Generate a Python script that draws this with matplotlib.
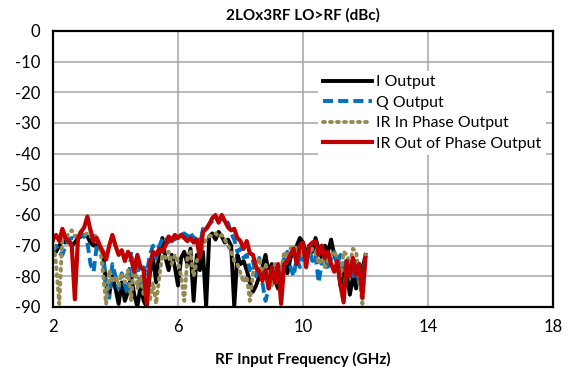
import matplotlib
matplotlib.use("Agg")
import matplotlib.pyplot as plt

# sweep frequency (GHz)
freq_ghz = [2.0, 2.1, 2.2, 2.3, 2.4, 2.5, 2.6, 2.7, 2.8, 2.9,
            3.0, 3.1, 3.2, 3.3, 3.4, 3.5, 3.6, 3.7, 3.8, 3.9,
            4.0, 4.1, 4.2, 4.3, 4.4, 4.5, 4.6, 4.7, 4.8, 4.9,
            5.0, 5.1, 5.2, 5.3, 5.4, 5.5, 5.6, 5.7, 5.8, 5.9,
            6.0, 6.1, 6.2, 6.3, 6.4, 6.5, 6.6, 6.7, 6.8, 6.9,
            7.0, 7.1, 7.2, 7.3, 7.4, 7.5, 7.6, 7.7, 7.8, 7.9,
            8.0, 8.1, 8.2, 8.3, 8.4, 8.5, 8.6, 8.7, 8.8, 8.9,
            9.0, 9.1, 9.2, 9.3, 9.4, 9.5, 9.6, 9.7, 9.8, 9.9,
            10.0, 10.1, 10.2, 10.3, 10.4, 10.5, 10.6, 10.7, 10.8, 10.9,
            11.0, 11.1, 11.2, 11.3, 11.4, 11.5, 11.6, 11.7, 11.8, 11.9,
            12.0]

# LO>RF leakage (dBc)
i_out = [-71, -72, -70, -68.5, -69, -68, -70, -69, -67.5, -67,
         -66.5, -67, -69, -70, -69.5, -71, -72, -83, -86, -80,
         -84, -89, -82, -88, -85, -80, -86, -90, -83, -88,
         -90, -79, -74, -82, -72, -67.5, -74, -78, -73, -77,
         -83, -74, -72, -76, -71, -88, -73, -78, -72, -90,
         -67, -66, -68, -65.5, -67, -69, -68, -70, -90, -73,
         -76, -75, -78, -82, -85, -83, -80, -77, -73, -79,
         -76, -81, -84, -80, -76, -79, -74, -72, -70, -67.5,
         -69, -73, -70, -72, -67.5, -71, -74, -70, -72, -68,
         -73, -76, -83, -77, -79, -86, -80, -84, -76, -78,
         -73]

q_out = [-72, -70, -72.5, -73, -70, -68, -67.5, -68, -67, -66.5,
         -67, -69, -76, -78.5, -70, -70, -73, -85, -87, -76,
         -80, -84, -79, -83, -86, -72, -80, -76, -84, -77,
         -79, -73, -70, -74, -70, -68, -67, -69, -66.5, -68,
         -66, -66.5, -66, -67, -65.5, -68, -66.5, -70, -64.5, -65,
         -63, -62, -61, -62, -61, -63, -62.5, -66, -68, -72,
         -71, -74, -73, -78, -75, -80, -74, -82, -88, -84,
         -80, -77, -83, -78, -74, -72, -77, -80, -74, -77,
         -72, -74, -71, -75, -73, -82, -76, -73, -78, -74,
         -72, -76, -73, -79, -74, -77, -80, -75, -83, -78,
         -75]

ir_in_phase = [-68, -76, -89, -67, -68, -66, -65, -67, -66, -65.5,
               -66.5, -66, -67, -66, -67.5, -70, -79, -89, -78, -82,
               -80, -83, -79, -82, -78, -88, -74, -84, -80, -86,
               -81, -88, -82, -89, -80, -73, -74, -72, -76, -73,
               -75, -80, -88, -74, -72, -80, -75, -73, -70, -68,
               -67, -66.5, -66, -67, -66.5, -68, -70, -72, -75, -76,
               -79, -82, -80, -88, -79, -77, -74, -81, -76, -79,
               -83, -76, -80, -78, -72, -74, -71, -70, -71, -70,
               -74, -72, -73, -71, -72, -76, -74, -77, -75, -73,
               -72, -74, -80, -72, -73, -76, -71, -72, -80, -89,
               -72]

ir_out_phase = [-68, -66.5, -68.5, -64.5, -67.5, -68.5, -70, -87.5, -67.5, -65.5,
                -64, -60.5, -65, -68.5, -67.5, -70, -72, -74.5, -70, -66.5,
                -70, -73, -71.5, -75, -72, -74, -78.5, -73, -77, -78,
                -89, -76, -72, -73, -71, -72, -70, -67, -68.5, -66.5,
                -67.5, -66.5, -67.5, -68.5, -67.5, -69, -68, -74, -65.5, -64.5,
                -63, -61, -60, -62.5, -60, -62, -64, -65, -64.5, -67.5,
                -68.5, -71, -68.5, -72.5, -73, -77, -78.5, -81.5, -78, -84,
                -77, -82, -76, -89, -76, -75, -73, -71, -76, -70,
                -69, -77, -70, -69, -68.5, -73, -70, -74, -72, -76,
                -78.5, -75, -83, -88.5, -75, -80, -74, -79.5, -76, -87,
                -74]

x_ticks = [2, 6, 10, 14, 18]
y_ticks = [0, -10, -20, -30, -40, -50, -60, -70, -80, -90]

plt.rcParams['font.family'] = ['Lato', 'DejaVu Sans']
plt.rcParams['axes.unicode_minus'] = False

fig = plt.figure(figsize=(5.68, 3.77), dpi=100)
ax = fig.add_axes([0.0933, 0.1857, 0.8803, 0.7321])

ax.plot(freq_ghz, i_out, color='black', lw=2.8, label='I Output')
ax.plot(freq_ghz, q_out, color='#0070C0', lw=2.8, ls=(0, (2.6, 1.3)), label='Q Output')
ax.plot(freq_ghz, ir_in_phase, color='#948A54', lw=2.8, ls=(0, (0.5, 1.3)),
        dash_capstyle='round', label='IR In Phase Output')
ax.plot(freq_ghz, ir_out_phase, color='#C00000', lw=3.0, label='IR Out of Phase Output')

ax.set_xlim(2, 18)
ax.set_ylim(-90, 0)
ax.set_xticks(x_ticks)
ax.set_yticks(y_ticks)
ax.tick_params(length=0, labelsize=12, pad=9)
ax.grid(color='#A6A6A6', lw=1.1)
ax.set_axisbelow(True)
for s in ax.spines.values():
    s.set_color('black')
    s.set_linewidth(1.6)

ax.set_title('2LOx3RF LO>RF (dBc)', fontsize=11, fontweight='bold', pad=8)
ax.set_xlabel('RF Input Frequency (GHz)', fontsize=11, fontweight='bold', labelpad=12)

leg = ax.legend(loc='upper left', bbox_to_anchor=(0.514, 0.885), frameon=True,
                fontsize=11.4, handlelength=3.1, handletextpad=0.3,
                labelspacing=0.4, borderpad=0.3, fancybox=False)
leg.get_frame().set_edgecolor('none')
leg.get_frame().set_facecolor('white')
leg.get_frame().set_alpha(1)

fig.savefig('out.png', dpi=100)
